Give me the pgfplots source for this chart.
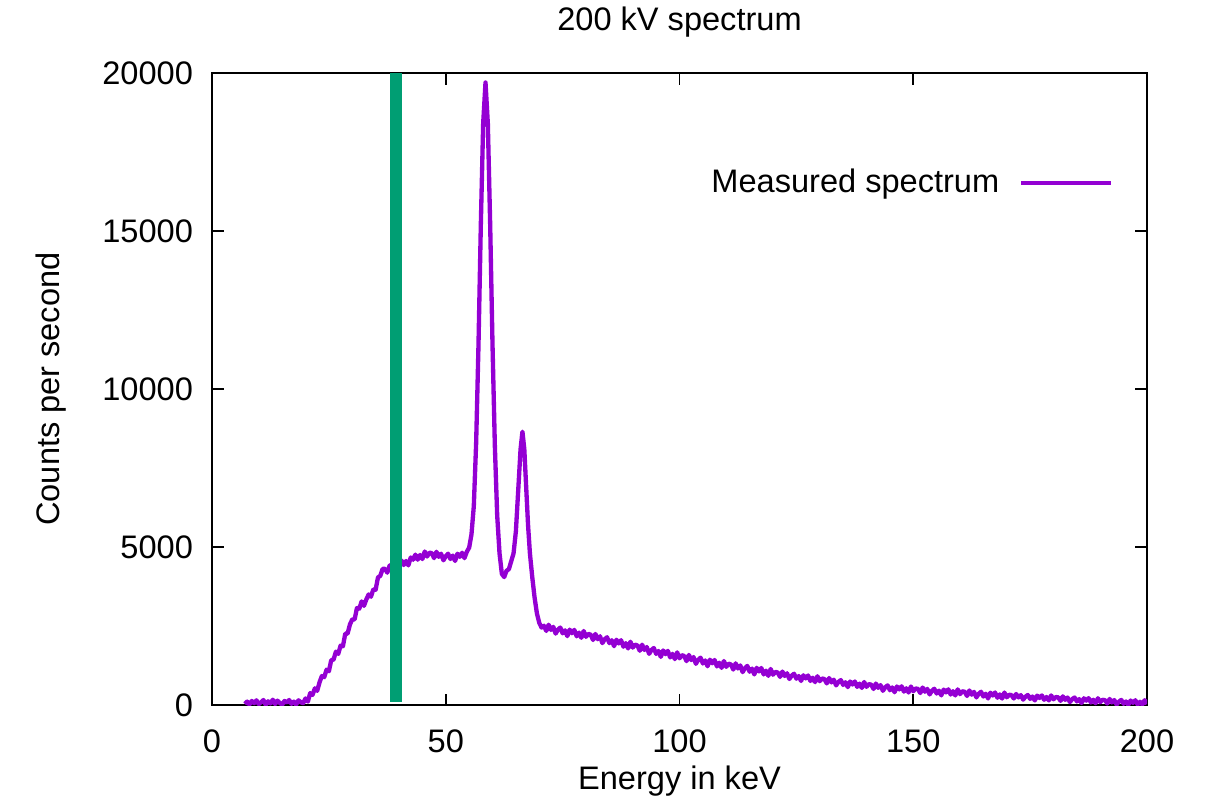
\documentclass[border=0pt]{standalone}
\usepackage{fontspec}
\setmainfont{Liberation Sans}
\usepackage{pgfplots}
\pgfplotsset{compat=1.18}
\definecolor{gpviolet}{HTML}{9400D3}
\definecolor{gpgreen}{HTML}{009E73}
\begin{document}
\begin{tikzpicture}
\begin{axis}[
  name=ax,
  scale only axis,
  width=324.4pt, height=219.3pt,
  xmin=0, xmax=200, ymin=0, ymax=20000,
  xtick={0,50,100,150,200},
  ytick={0,5000,10000,15000,20000},
  scaled y ticks=false,
  /pgf/number format/1000 sep={},
  /pgf/number format/assume math mode=true,
  font=\fontsize{11.3pt}{13pt}\selectfont,
  tick label style={font=\fontsize{11.3pt}{13pt}\selectfont},
  xticklabel style={yshift=-4.9pt},
  yticklabel style={xshift=-3.1pt},
  tick align=inside,
  xtick pos=both, ytick pos=both,
  minor tick num=0,
  major tick length=4pt,
  axis line style={line width=0.6pt},
  major tick style={line width=0.6pt, black},
  every axis title shift=0pt,
  title={200 kV spectrum},
  title style={at={(axis description cs:0.5,1.0807)}, anchor=center, font=\fontsize{11.3pt}{13pt}\selectfont},
  xlabel={Energy in keV},
  xlabel style={at={(axis description cs:0.5,-0.120)}, anchor=center},
  ylabel={Counts per second},
  ylabel style={at={(axis description cs:-0.1722,0.5)}, anchor=center, rotate=0},
  legend plot pos=right,
  legend cell align=right,
  legend image code/.code={\draw[#1] (0pt,0pt) -- (31.2pt,0pt);},
  legend style={at={(axis description cs:0.9647,0.826)}, anchor=east, draw=none, fill=none, inner sep=0pt,
    font=\fontsize{11.3pt}{13pt}\selectfont, /tikz/every odd column/.append style={column sep=4.9pt}},
]
\addplot[gpviolet, line width=1.5pt, line join=round] coordinates {
(7,40)(7.5,110)(8,20)(8.5,130)(9,60)(9.5,150)(10,30)(10.5,90)(11,160)(11.5,10)(12,120)(12.5,50)(13,170)(13.5,30)(14,140)(14.5,70)(15,10)(15.5,130)(16,80)(16.5,160)(17,40)(17.5,110)(18,20)(18.5,150)(19,90)(19.5,60)
(20,210)(20.5,110)(21,380)(21.5,320)(22,530)(22.5,450)(23,720)(23.5,920)(24,880)(24.5,1120)(25,1070)(25.5,1420)(26,1440)(26.5,1690)(27,1620)(27.5,1880)(28,1860)(28.5,2260)(29,2260)(29.5,2550)
(30,2710)(30.5,2710)(31,3070)(31.5,3050)(32,3280)(32.5,3140)(33,3340)(33.5,3500)(34,3430)(34.5,3660)(35,3650)(35.5,4040)(36,4090)(36.5,4310)
(37,4310)(37.5,4190)(38,4420)(38.5,4300)(39,4440)(39.5,4280)(40,4460)(40.5,4580)(41,4430)(41.5,4560)(42,4420)(42.5,4670)(43,4600)(43.5,4760)(44,4600)(44.5,4750)(45,4620)(45.5,4860)(46,4700)(46.5,4820)
(47,4810)(47.5,4650)(48,4850)(48.5,4690)(49,4790)(49.5,4580)(50,4710)(50.5,4790)(51,4620)(51.5,4730)(52,4560)(52.5,4790)(53,4690)(53.5,4820)(54,4650)(54.5,4850)(55,4980)
(55.5,5400)(56,6300)(56.5,8300)(57,11400)(57.5,15200)(58,18400)(58.5,19700)(59,18400)(59.5,15200)(60,11400)(60.5,8200)(61,6000)(61.5,4800)(62,4150)(62.5,4050)(63,4250)(63.5,4300)(64,4550)(64.5,4800)(65,5500)(65.5,6800)(66,8100)(66.4,8650)(66.8,8100)(67.2,6900)(67.6,5700)(68,4800)(68.5,4050)(69,3400)(69.5,2900)(70,2600)(70.5,2450)
(71,2510)(71.5,2346)(72,2542)(72.5,2378)(73,2474)(73.5,2261)(74,2387)(74.5,2453)(75,2269)(75.5,2365)(76,2181)(76.5,2387)(77,2273)(77.5,2379)(78,2176)(78.5,2292)(79,2128)(79.5,2344)(80,2160)(80.5,2253)
(81,2226)(81.5,2059)(82,2251)(82.5,2084)(83,2177)(83.5,1960)(84,2083)(84.5,2146)(85,1959)(85.5,2051)(86,1864)(86.5,2067)(87,1950)(87.5,2053)(88,1846)(88.5,1959)(89,1792)(89.5,2005)(90,1818)(90.5,1912)
(91,1885)(91.5,1718)(92,1911)(92.5,1744)(93,1837)(93.5,1620)(94,1743)(94.5,1806)(95,1619)(95.5,1712)(96,1525)(96.5,1728)(97,1611)(97.5,1715)(98,1508)(98.5,1621)(99,1454)(99.5,1667)(100,1480)(100.5,1577)
(101,1553)(101.5,1390)(102,1586)(102.5,1423)(103,1519)(103.5,1306)(104,1432)(104.5,1499)(105,1315)(105.5,1412)(106,1228)(106.5,1435)(107,1321)(107.5,1428)(108,1224)(108.5,1341)(109,1177)(109.5,1394)(110,1210)(110.5,1308)
(111,1285)(111.5,1123)(112,1320)(112.5,1158)(113,1255)(113.5,1043)(114,1170)(114.5,1238)(115,1055)(115.5,1153)(116,970)(116.5,1178)(117,1065)(117.5,1173)(118,970)(118.5,1088)(119,925)(119.5,1143)(120,960)(120.5,1050)
(121,1030)(121.5,892)(122,1060)(122.5,922)(123,1005)(123.5,825)(124,933)(124.5,991)(125,835)(125.5,919)(126,763)(126.5,941)(127,844)(127.5,937)(128,764)(128.5,865)(129,726)(129.5,912)(130,756)(130.5,841)
(131,822)(131.5,685)(132,855)(132.5,718)(133,802)(133.5,623)(134,733)(134.5,791)(135,637)(135.5,722)(136,568)(136.5,746)(137,651)(137.5,746)(138,576)(138.5,679)(139,543)(139.5,730)(140,577)(140.5,663)
(141,646)(141.5,510)(142,681)(142.5,545)(143,631)(143.5,452)(144,563)(144.5,623)(145,470)(145.5,558)(146,407)(146.5,589)(147,497)(147.5,594)(148,426)(148.5,531)(149,397)(149.5,587)(150,436)(150.5,526)
(151,512)(151.5,380)(152,555)(152.5,422)(153,512)(153.5,337)(154,452)(154.5,516)(155,366)(155.5,456)(156,307)(156.5,490)(157,400)(157.5,498)(158,332)(158.5,438)(159,305)(159.5,496)(160,346)(160.5,435)
(161,421)(161.5,288)(162,462)(162.5,329)(163,418)(163.5,243)(164,357)(164.5,420)(165,270)(165.5,359)(166,209)(166.5,392)(167,301)(167.5,399)(168,232)(168.5,338)(169,205)(169.5,396)(170,246)(170.5,326)
(171,315)(171.5,207)(172,350)(172.5,242)(173,315)(173.5,172)(174,266)(174.5,319)(175,196)(175.5,270)(176,147)(176.5,298)(177,224)(177.5,305)(178,168)(178.5,256)(179,147)(179.5,305)(180,182)(180.5,254)
(181,243)(181.5,133)(182,276)(182.5,166)(183,239)(183.5,94)(184,188)(184.5,239)(185,116)(185.5,188)(186,65)(186.5,214)(187,140)(187.5,219)(188,82)(188.5,168)(189,59)(189.5,215)(190,92)(190.5,166)
(191,156)(191.5,48)(192,192)(192.5,84)(193,158)(193.5,15)(194,110)(194.5,163)(195,41)(195.5,115)(196,10)(196.5,144)(197,71)(197.5,152)(198,16)(198.5,104)(199,20)(199.5,154)(200,32)
};
\addlegendentry{Measured spectrum}
\addplot[forget plot, gpgreen, line width=4.2pt] coordinates {(39.35,100)(39.35,20000)};
\end{axis}
\pgfresetboundingbox
\path ([xshift=-73.56pt,yshift=-35.39pt]ax.south west) rectangle ([xshift=21.51pt,yshift=25.33pt]ax.north east);
\end{tikzpicture}
\end{document}
